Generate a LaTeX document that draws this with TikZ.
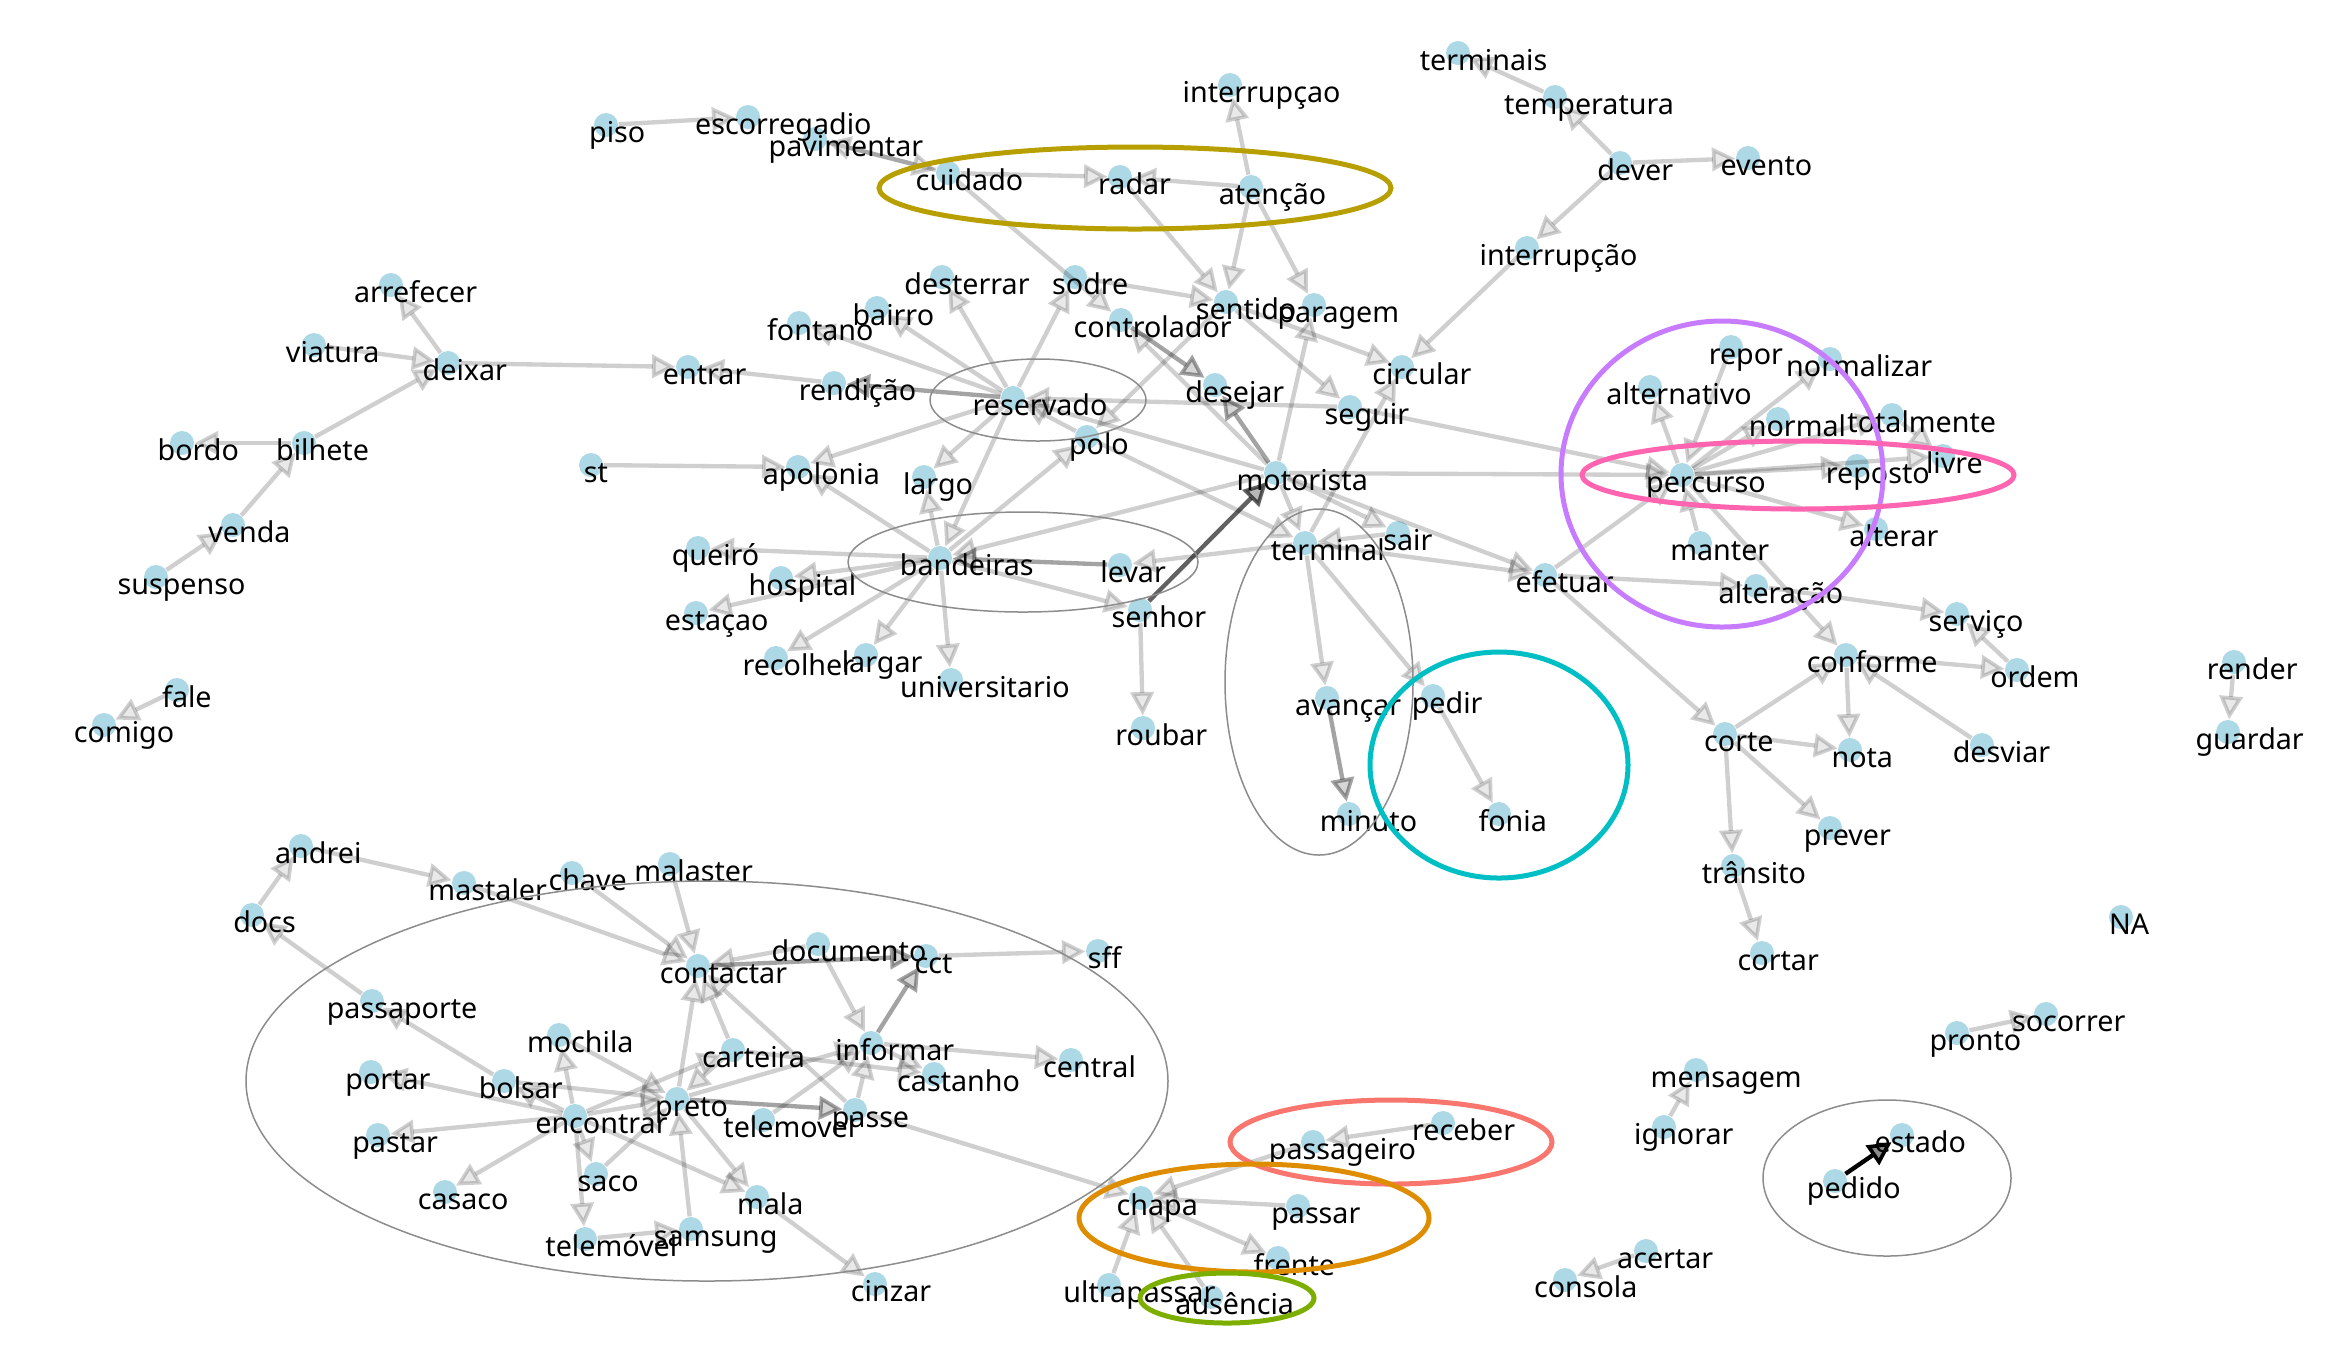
\documentclass[tikz,border=0pt]{standalone}
\usepackage{fontspec}
\setmainfont{Noto Sans}
\usetikzlibrary{arrows.meta}

\definecolor{dotblue}{HTML}{ADD8E6}
\definecolor{grpsalmon}{HTML}{F8766D}
\definecolor{grporange}{HTML}{DE8C00}
\definecolor{grpgold}{HTML}{B79F00}
\definecolor{grpgreen}{HTML}{7CAE00}
\definecolor{grpcyan}{HTML}{00BFC4}
\definecolor{grppurple}{HTML}{C77CFF}
\definecolor{grppink}{HTML}{FF64B0}

% label sits with the dot at 30% of its width
\newlength\lblwd
\newcommand\wlbl[1]{\settowidth{\lblwd}{#1}\hspace*{0.4\lblwd}#1}

% name/x/y/text of every word
\newcommand\termlist{
  piso/606/125/piso, escorregadio/748/117/escorregadio, pavimentar/815/139/pavimentar,
  cuidado/948/173/cuidado, radar/1120/177/radar, atencao/1251/187/atenção,
  interrupcao2/1230/85/interrupçao, terminais/1458/53/terminais, temperatura/1555/97/temperatura,
  dever/1620/163/dever, evento/1748/158/evento, interrupcao/1527/248/interrupção,
  arrefecer/391/285/arrefecer, viatura/314/345/viatura, deixar/448/363/deixar,
  entrar/688/367/entrar, rendicao/834/383/rendição, fontano/799/323/fontano,
  bairro/877/308/bairro, desterrar/942/277/desterrar, sodre/1075/277/sodre,
  controlador/1121/320/controlador, sentido/1226/302/sentido, paragem/1314/305/paragem,
  circular/1402/367/circular, desejar/1215/385/desejar, seguir/1350/407/seguir,
  reservado/1013/398/reservado, polo/1087/437/polo, bordo/182/443/bordo,
  bilhete/304/443/bilhete, venda/233/525/venda, suspenso/156/577/suspenso,
  st/591/465/st, apolonia/798/467/apolonia, largo/924/477/largo,
  motorista/1276/473/motorista, queiro/698/548/queiró, bandeiras/940/558/bandeiras,
  levar/1120/565/levar, hospital/781/578/hospital, estacao/696/613/estaçao,
  senhor/1140/610/senhor, recolher/776/658/recolher, largar/866/655/largar,
  universitario/951/680/universitario, roubar/1143/728/roubar, terminal/1305/543/terminal,
  sair/1398/533/sair, efetuar/1545/575/efetuar, avancar/1327/698/avançar,
  pedir/1433/696/pedir, minuto/1349/814/minuto, fonia/1499/814/fonia,
  fale/177/690/fale, comigo/104/725/comigo, repor/1731/347/repor,
  normalizar/1830/359/normalizar, alternativo/1650/387/alternativo, normal/1778/419/normal,
  totalmente/1892/415/totalmente, livre/1943/456/livre, percurso/1682/475/percurso,
  reposto/1857/466/reposto, manter/1700/543/manter, alterar/1876/529/alterar,
  alteracao/1756/586/alteração, servico/1957/614/serviço, conforme/1846/655/conforme,
  ordem/2017/670/ordem, render/2234/662/render, guardar/2228/732/guardar,
  corte/1725/734/corte, nota/1850/750/nota, desviar/1982/745/desviar,
  prever/1830/828/prever, transito/1733/866/trânsito, cortar/1762/953/cortar,
  NA/2121/917/NA, socorrer/2046/1014/socorrer, pronto/1957/1033/pronto,
  mensagem/1696/1070/mensagem, ignorar/1664/1127/ignorar, estado/1902/1135/estado,
  pedido/1835/1181/pedido, acertar/1646/1251/acertar, consola/1565/1280/consola,
  andrei/301/846/andrei, mastaler/464/883/mastaler, chave/572/873/chave,
  malaster/670/864/malaster, docs/252/915/docs, contactar/698/966/contactar,
  documento/818/944/documento, cct/926/956/cct, sff/1098/951/sff,
  passaporte/372/1001/passaporte, mochila/559/1035/mochila, carteira/733/1050/carteira,
  informar/871/1043/informar, central/1071/1060/central, portar/371/1072/portar,
  castanho/934/1074/castanho, bolsar/504/1081/bolsar, preto/677/1099/preto,
  telemovel/763/1120/telemovel, passe/855/1110/passe, encontrar/575/1116/encontrar,
  pastar/378/1135/pastar, saco/596/1174/saco, casaco/445/1192/casaco,
  mala/757/1197/mala, samsung/691/1229/samsung, telemovel2/585/1239/telemóvel,
  cinzar/875/1284/cinzar, receber/1443/1123/receber, passageiro/1313/1142/passageiro,
  chapa/1141/1198/chapa, passar/1298/1206/passar, frente/1278/1258/frente,
  ultrapassar/1109/1285/ultrapassar, ausencia/1211/1297/ausência}

\begin{document}
\begin{tikzpicture}[x=0.3pt, y=-0.3pt,
    dot/.style={circle, fill=dotblue, inner sep=0pt, minimum size=7.2pt},
    lbl/.style={anchor=base, inner sep=0pt, yshift=-5.2pt, font=\fontsize{8.6}{10}\selectfont},
    edge/.style={draw=black, opacity=0.19, line width=1.3pt,
      -{Triangle[length=7pt, width=7pt, line width=1.1pt, fill=black!45]}},
    edgemid/.style={edge, opacity=0.36},
    edgedark/.style={edge, opacity=0.62},
    hull/.style={draw=black!45, line width=0.45pt},
    grp/.style={line width=1.5pt}]
  \useasboundingbox (0,0) rectangle (2340,1354);

  % Dots
  \foreach \n/\x/\y/\lab in \termlist
    \node[dot] (\n) at (\x,\y) {};

  % Edges
  \foreach \a/\b in {piso/escorregadio, pavimentar/cuidado, cuidado/pavimentar,
      cuidado/radar, atencao/radar, cuidado/controlador, radar/sentido, atencao/sentido,
      atencao/interrupcao2, atencao/paragem, sodre/sentido, sentido/seguir,
      sentido/circular, sentido/polo, motorista/paragem, motorista/controlador,
      temperatura/terminais, dever/temperatura, dever/evento, dever/interrupcao,
      interrupcao/circular, terminal/circular, viatura/deixar, deixar/arrefecer,
      bilhete/deixar, bilhete/bordo, venda/bilhete, suspenso/venda, fale/comigo,
      deixar/entrar, rendicao/entrar, reservado/fontano, reservado/bairro,
      reservado/desterrar, reservado/sodre, reservado/apolonia, reservado/largo,
      reservado/bandeiras, seguir/reservado, motorista/reservado, polo/reservado,
      polo/terminal, bandeiras/polo, st/apolonia, bandeiras/apolonia, bandeiras/largo,
      bandeiras/queiro, bandeiras/hospital, bandeiras/estacao, bandeiras/recolher,
      bandeiras/largar, bandeiras/universitario, bandeiras/senhor, motorista/bandeiras,
      terminal/levar, senhor/roubar, motorista/terminal, sair/terminal, motorista/sair,
      motorista/efetuar, terminal/efetuar, terminal/avancar, terminal/pedir, pedir/fonia,
      seguir/percurso, motorista/percurso, efetuar/percurso, efetuar/alteracao,
      efetuar/corte, percurso/alternativo, repor/percurso, percurso/normalizar,
      percurso/normal, percurso/totalmente, percurso/reposto, percurso/livre,
      totalmente/livre, percurso/alterar, manter/percurso, percurso/conforme,
      alteracao/servico, ordem/servico, conforme/ordem, conforme/nota, desviar/conforme,
      corte/conforme, corte/nota, corte/prever, corte/transito, transito/cortar,
      render/guardar, pronto/socorrer, ignorar/mensagem, acertar/consola,
      docs/andrei, andrei/mastaler, mastaler/contactar, chave/contactar,
      malaster/contactar, passaporte/docs, bolsar/passaporte, encontrar/bolsar,
      encontrar/portar, encontrar/pastar, encontrar/casaco, encontrar/saco,
      encontrar/telemovel2, encontrar/mochila, encontrar/mala, encontrar/preto,
      encontrar/carteira, bolsar/preto, mochila/preto, saco/preto, carteira/preto,
      preto/contactar, carteira/contactar, passe/contactar, documento/contactar,
      preto/mala, samsung/preto, telemovel2/samsung, preto/informar, telemovel/informar,
      passe/informar, documento/informar, informar/central, informar/castanho,
      carteira/castanho, cct/sff, passe/chapa, mala/cinzar, receber/passageiro,
      passageiro/chapa, passar/chapa, chapa/frente, ultrapassar/chapa, ausencia/chapa}
    \draw[edge] (\a) -- (\b);

  % Heavier edges
  \foreach \a/\b in {controlador/desejar, motorista/desejar, avancar/minuto,
      informar/cct, contactar/cct, levar/bandeiras, reservado/rendicao, preto/passe}
    \draw[edgemid] (\a) -- (\b);
  \draw[edgedark] (senhor) -- (motorista);
  \draw[edge, opacity=1] (pedido) -- (estado);

  % Labels
  \foreach \n/\x/\y/\lab in \termlist
    \node[lbl] (\n-t) at (\n) {\wlbl{\lab}};

  % Groups
  \draw[hull] (1038,400) ellipse [x radius=108, y radius=41];
  \draw[hull] (1023,562) ellipse [x radius=175, y radius=50];
  \draw[hull] (1319,682) ellipse [x radius=94, y radius=173];
  \draw[hull] (707,1081) ellipse [x radius=461, y radius=200];
  \draw[hull] (1887,1178) ellipse [x radius=124, y radius=78];
  \draw[grp, grpgold] (1135,188) ellipse [x radius=256, y radius=41];
  \draw[grp, grpcyan] (1499,765) ellipse [x radius=129, y radius=113];
  \draw[grp, grppurple] (1722,474) ellipse [x radius=161, y radius=153];
  \draw[grp, grppink] (1798,475) ellipse [x radius=216, y radius=34];
  \draw[grp, grpsalmon] (1391,1142) ellipse [x radius=161, y radius=42];
  \draw[grp, grporange] (1254,1218) ellipse [x radius=175, y radius=54];
  \draw[grp, grpgreen] (1227,1298) ellipse [x radius=87, y radius=25];
\end{tikzpicture}
\end{document}
